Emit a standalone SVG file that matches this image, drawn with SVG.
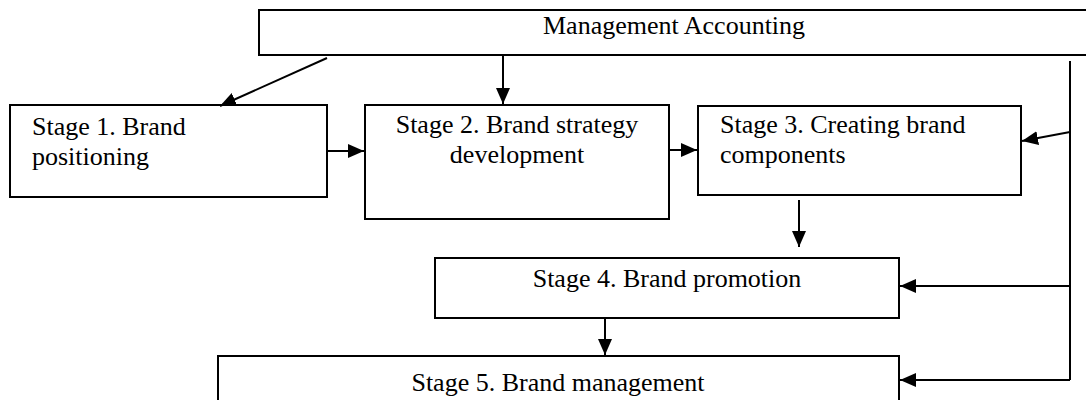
<svg xmlns="http://www.w3.org/2000/svg" width="1086" height="400" viewBox="0 0 1086 400">
<style>
.box{fill:#fff;stroke:#000;stroke-width:2}
.t{font-family:"Liberation Serif","Times New Roman",serif;font-size:26px;fill:#000}
.c{text-anchor:middle}
.ln{stroke:#000;stroke-width:2;fill:none}
.ar{marker-end:url(#ah)}
</style>
<defs>
<marker id="ah" markerUnits="userSpaceOnUse" markerWidth="16" markerHeight="14" refX="16" refY="7" orient="auto">
<path d="M0,0 L16,7 L0,14 z" fill="#000"/>
</marker>
</defs>
<rect width="1086" height="400" fill="#fff"/>
<g id="management-accounting">
<rect class="box" x="259" y="10" width="840" height="45"/>
<text class="t" x="543" y="34">Management Accounting</text>
</g>
<g id="stage1">
<rect class="box" x="10" y="105" width="317" height="92"/>
<text class="t" x="32" y="135">Stage 1. Brand</text>
<text class="t" x="32" y="165">positioning</text>
</g>
<g id="stage2">
<rect class="box" x="365" y="105" width="304" height="114"/>
<text class="t c" x="517" y="133">Stage 2. Brand strategy</text>
<text class="t c" x="517" y="163">development</text>
</g>
<g id="stage3">
<rect class="box" x="698" y="106" width="323" height="89"/>
<text class="t" x="720" y="133">Stage 3. Creating brand</text>
<text class="t" x="720" y="163">components</text>
</g>
<g id="stage4">
<rect class="box" x="435" y="258" width="464" height="60"/>
<text class="t c" x="667" y="287">Stage 4. Brand promotion</text>
</g>
<g id="stage5">
<rect class="box" x="218" y="356" width="681" height="60"/>
<text class="t c" x="558" y="391">Stage 5. Brand management</text>
</g>
<g id="connectors">
<line class="ln ar" x1="327" y1="58" x2="220" y2="106"/>
<line class="ln ar" x1="503" y1="56" x2="503" y2="104"/>
<line class="ln ar" x1="328" y1="151" x2="364" y2="151"/>
<line class="ln ar" x1="670" y1="150" x2="697" y2="150"/>
<polyline class="ln" points="1070,61 1070,380"/>
<line class="ln ar" x1="1070" y1="132" x2="1022" y2="141"/>
<line class="ln ar" x1="799" y1="200" x2="799" y2="247"/>
<line class="ln ar" x1="1070" y1="286" x2="900" y2="286"/>
<line class="ln ar" x1="605" y1="319" x2="605" y2="355"/>
<line class="ln ar" x1="1070" y1="380" x2="900" y2="380"/>
</g>
</svg>
